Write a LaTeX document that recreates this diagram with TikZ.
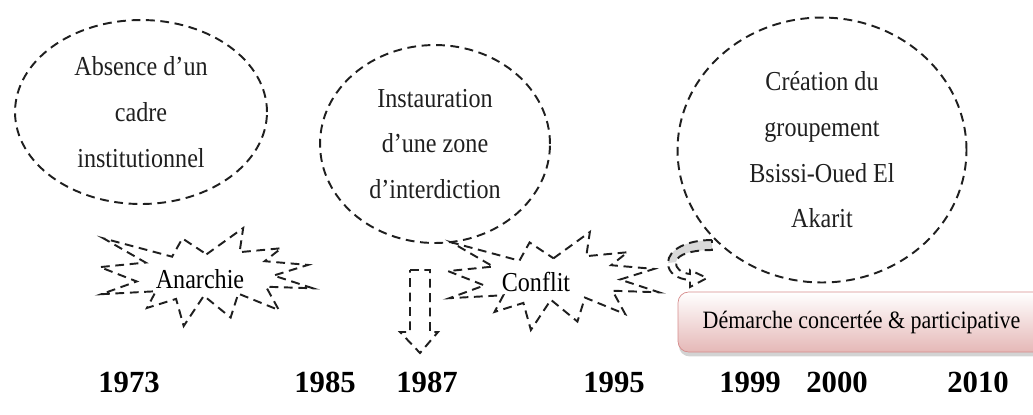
\documentclass[tikz,border=0pt]{standalone}
\usepackage{fontspec}
\setmainfont{Liberation Serif}[FakeStretch=0.88]
\newfontfamily\yearfont{Liberation Serif}[FakeStretch=1.0]
\usetikzlibrary{shapes.geometric,shadows}

\definecolor{rosefond}{RGB}{229,184,183}
\definecolor{rosebord}{RGB}{214,140,140}

\tikzset{
  trait/.style={dash pattern=on 5pt off 3.2pt, line width=1.1pt, black!88},
  bulle/.style={ellipse, draw, trait, align=center, inner sep=0pt,
    font=\fontsize{15.6}{26}\selectfont},
  etiquette/.style={font=\fontsize{15.6}{18}\selectfont},
  demarche/.style={draw=rosebord, rounded corners=6pt, top color=white,
    bottom color=rosefond, minimum width=7.34cm, minimum height=1.2cm,
    drop shadow={opacity=0.35, shadow xshift=0.5pt, shadow yshift=-2.5pt},
    font=\fontsize{14.2}{16}\selectfont},
  annee/.style={font=\yearfont\bfseries\fontsize{17.5}{17.5}\selectfont},
}

% forme "explosion" dans la boite (x,y,largeur,hauteur)
\newcommand\drawexplosion[4]{%
  \draw[trait, shift={(#1,#2)}, xscale=#3/100, yscale=#4/100]
    (50,26.85) -- (67.23,0) -- (65.53,24.65) -- (85.09,20.63) -- (77.32,33.87)
    -- (97.67,37.67) -- (81.51,48.50) -- (100,61.53) -- (77.95,59.92)
    -- (84.00,83.77) -- (64.91,66.93) -- (61.33,91.38) -- (48.76,69.14)
    -- (39.28,100) -- (35.72,72.35) -- (22.05,81.56) -- (26.24,64.52)
    -- (0.63,67.53) -- (17.23,54.51) -- (0,39.88) -- (21.42,35.26)
    -- (1.71,10.63) -- (33.85,29.26) -- (38.67,10.63) -- cycle;}

\begin{document}
\begin{tikzpicture}[x=0.02cm, y=-0.02cm]
  \useasboundingbox (0,0) rectangle (1033,414);

  % Les trois bulles
  \node[bulle, minimum width=5.04cm, minimum height=3.68cm] (absence) at (141,112)
    {Absence d’un\\cadre\\institutionnel};
  \node[bulle, minimum width=4.6cm, minimum height=3.96cm] (instauration) at (435,144)
    {Instauration\\d’une zone\\d’interdiction};
  \node[bulle, minimum width=5.78cm, minimum height=5.3cm] (creation) at (822,150)
    {Création du\\groupement\\Bsissi-Oued El\\Akarit};

  % Explosions
  \drawexplosion{100}{228}{213}{98}
  \node[etiquette] (anarchie) at (200,279) {Anarchie};
  \drawexplosion{448}{232}{211}{98}
  \node[etiquette] (conflit) at (536,282) {Conflit};

  % Fleche vers le bas (1987)
  \draw[trait] (410,270) -- (430,270) -- (430,332) -- (438,332) -- (420,353)
    -- (400,332) -- (410,332) -- cycle;

  % Fleche courbe
  \fill[gray!30] (712,240) .. controls (688,240) and (668,249) .. (668,263)
    -- (676,262) .. controls (677,254) and (693,250) .. (712,250) -- cycle;
  \draw[trait] (712,240) .. controls (688,240) and (668,249) .. (668,263)
    .. controls (668,273) and (677,279) .. (690,280) -- (690,287) -- (707,278)
    -- (690,270) -- (690,274) .. controls (681,273) and (675,268) .. (676,262)
    .. controls (677,254) and (693,250) .. (712,250) -- cycle;

  % Demarche
  \node[demarche] (demarche) at (861.5,322) {Démarche concertée \& participative};

  % Annees
  \foreach \an/\px in {1973/129,1985/325,1987/427,1995/614,1999/750,2000/837,2010/978}
    \node[annee] (a\an) at (\px,382) {\an};
\end{tikzpicture}
\end{document}
